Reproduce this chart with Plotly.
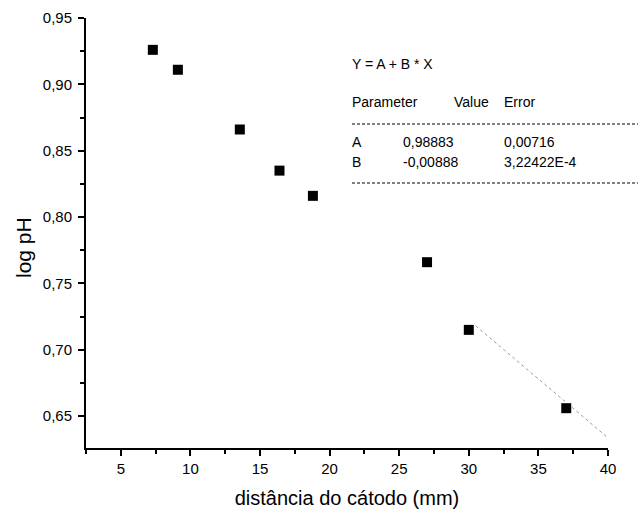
import plotly.graph_objects as go

# Data
distancia = [7.3, 9.1, 13.55, 16.4, 18.8, 27.0, 30.0, 37.0]
log_ph = [0.926, 0.911, 0.866, 0.835, 0.816, 0.766, 0.715, 0.656]
fit_A = 0.98883
fit_B = -0.00888
fit_x = [30.5, 40.0]
fit_y = [fit_A + fit_B * x for x in fit_x]

table_header = ["Parameter", "Value", "Error"]
table_rows = [["A", "0,98883", "0,00716"], ["B", "-0,00888", "3,22422E-4"]]

W, H = 638, 512
L, R, T, B = 86, 30, 18, 64
PW, PH = W - L - R, H - T - B

def px(x):
    return (x - L) / PW

def py(y):
    return (H - B - y) / PH

fig = go.Figure()
fig.add_trace(go.Scatter(x=fit_x, y=fit_y, mode="lines",
                         line=dict(color="#9a9a9a", width=1, dash="dot"),
                         hoverinfo="skip", showlegend=False))
fig.add_trace(go.Scatter(x=distancia, y=log_ph, mode="markers",
                         marker=dict(symbol="square", size=10, color="black"),
                         showlegend=False))

font = "Liberation Sans, Arial, sans-serif"
ann = []
def txt(x, y, s, size=14):
    ann.append(dict(x=px(x), y=py(y), xref="paper", yref="paper", text=s,
                    showarrow=False, xanchor="left", yanchor="middle",
                    font=dict(family=font, size=size, color="black")))

txt(350, 64, "Y = A + B * X")
txt(350, 102, table_header[0])
txt(452, 102, table_header[1])
txt(502, 102, table_header[2])
for i, row in enumerate(table_rows):
    yy = 142 + 20 * i
    txt(350, yy, row[0])
    txt(401, yy, row[1])
    txt(502, yy, row[2])

# y-axis title (placed as annotation to match its off-centre position)
ann.append(dict(x=px(23), y=py(248), xref="paper", yref="paper", text="log pH",
                showarrow=False, textangle=-90, xanchor="center", yanchor="middle",
                font=dict(family=font, size=21, color="black")))

shapes = []
for yy in (124, 183):
    shapes.append(dict(type="line", xref="paper", yref="paper",
                       x0=px(352), x1=px(638), y0=py(yy), y1=py(yy),
                       line=dict(color="black", width=1, dash="3px,2px")))

axis_common = dict(showline=True, linecolor="black", linewidth=2, mirror=False,
                   ticks="outside", ticklen=6, tickwidth=2, tickcolor="black",
                   showgrid=False, zeroline=False, automargin=False,
                   tickfont=dict(family=font, size=15, color="black"),
                   minor=dict(ticks="outside", ticklen=4, tickwidth=1.5, tickcolor="black"))

fig.update_layout(
    width=W, height=H,
    margin=dict(l=L, r=R, t=T, b=B),
    paper_bgcolor="white", plot_bgcolor="white",
    separators=", ",
    xaxis=dict(range=[2.5, 40], dtick=5, tick0=0,
               title=dict(text="distância do cátodo (mm)", font=dict(family=font, size=20, color="black"), standoff=15),
               **axis_common),
    yaxis=dict(range=[0.626, 0.95], dtick=0.05, tick0=0.65, tickformat=".2f",
               ticklabelstandoff=3,
               **axis_common),
    annotations=ann, shapes=shapes,
)
fig.update_xaxes(minor_dtick=2.5)
fig.update_yaxes(minor_dtick=0.025)

fig.write_html("out.html", config={"displayModeBar": False},
               post_script="document.body.style.margin='0';document.body.style.overflow='hidden';")
